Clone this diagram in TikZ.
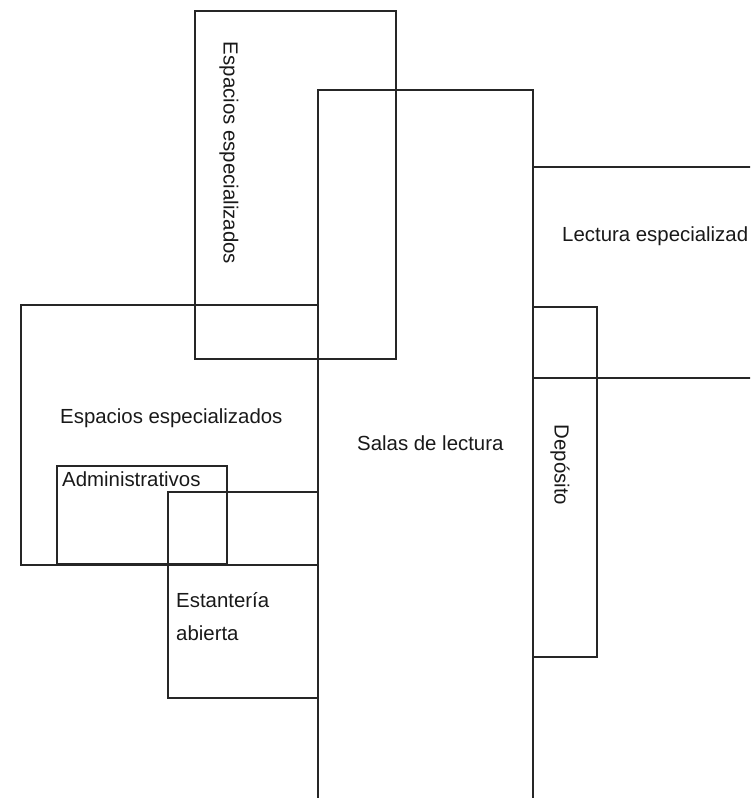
\documentclass[tikz,border=0pt]{standalone}
\usepackage{fontspec}
\setmainfont{Liberation Sans}
\usetikzlibrary{calc}

\begin{document}
\begin{tikzpicture}[x=1pt, y=-1pt,
    every node/.style={font=\fontsize{20.4}{33}\selectfont, inner sep=0pt, text=black!90},
    wall/.style={draw=black!85, line width=1.4pt}]

% --- 0. FRAME (plan is cut at the page edges) ---
\useasboundingbox (0,0) rectangle (750,798);
\clip (0,0) rectangle (750,798);

% --- 1. CORNERS OF THE AREAS ---
% Espacios especializados (upper strip)
\coordinate (esp_up_nw) at (195,11);
\coordinate (esp_up_se) at (396,359);
% Salas de lectura (central hall, runs past the bottom edge)
\coordinate (salas_nw) at (318,90);
\coordinate (salas_se) at (533,810);
% Lectura especializada (runs past the right edge)
\coordinate (lect_nw) at (533,167);
\coordinate (lect_se) at (765,378);
% Deposito
\coordinate (dep_nw) at (533,307);
\coordinate (dep_se) at (597,657);
% Espacios especializados (left block)
\coordinate (esp_lf_nw) at (21,305);
\coordinate (esp_lf_se) at (318,565);
% Administrativos
\coordinate (admin_nw) at (57,466);
\coordinate (admin_se) at (227,564);
% Estanteria abierta
\coordinate (est_nw) at (168,492);
\coordinate (est_se) at (318,698);

% --- 2. AREA OUTLINES ---
\draw[wall] (esp_up_nw) rectangle (esp_up_se);
\draw[wall] (salas_nw) rectangle (salas_se);
\draw[wall] (lect_nw) rectangle (lect_se);
\draw[wall] (dep_nw) rectangle (dep_se);
\draw[wall] (esp_lf_nw) rectangle (esp_lf_se);
\draw[wall] (admin_nw) rectangle (admin_se);
\draw[wall] (est_nw) rectangle (est_se);

% --- 3. AREA NAMES ---
\node[rotate=-90] (esp_up_lbl) at (229,153) {Espacios especializados};
\node[anchor=base west] (salas_lbl) at (357,450) {Salas de lectura};
\node[anchor=base west] (lect_lbl) at (562,241) {Lectura especializad};
\node[rotate=-90] (dep_lbl) at (560,465) {Depósito};
\node[anchor=base west] (esp_lf_lbl) at (60,423) {Espacios especializados};
\node[anchor=base west] (admin_lbl) at (62,486) {Administrativos};
% base anchor of a two-line node sits on its last line
\node[anchor=base west, align=left] (est_lbl) at (176,640) {Estantería\\abierta};

\end{tikzpicture}
\end{document}
